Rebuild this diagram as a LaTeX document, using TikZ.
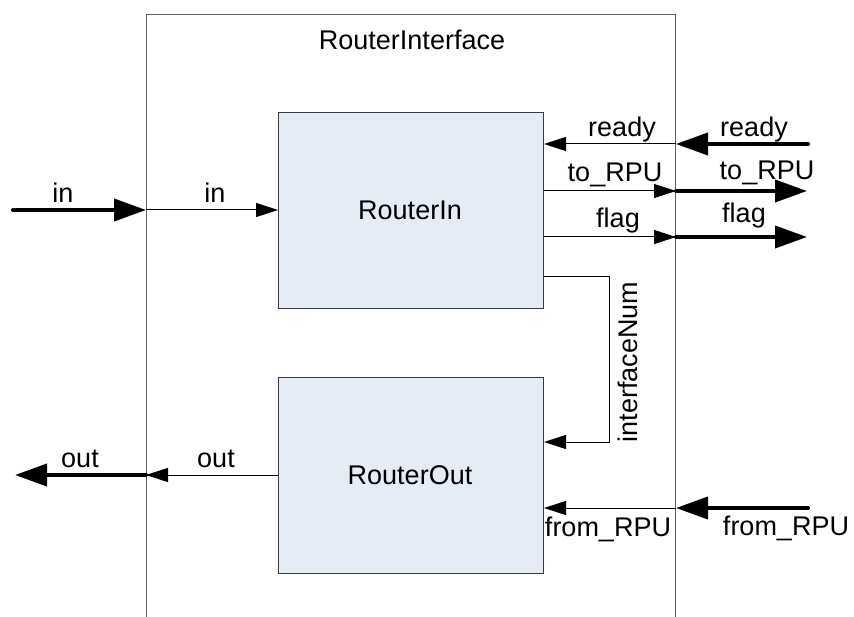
\documentclass[tikz,border=0pt]{standalone}
\usepackage{fontspec}
\setmainfont{Liberation Sans}
\usetikzlibrary{arrows.meta}
\definecolor{boxfill}{HTML}{E6ECF6}
\definecolor{edge}{HTML}{3A3A3A}
\begin{document}
\begin{tikzpicture}[x=1pt,y=-1pt,
  font=\fontsize{27}{31}\selectfont,
  block/.style={draw=edge, fill=boxfill, line width=1pt, minimum width=265pt,
                minimum height=196pt, anchor=north west, inner sep=0pt},
  frame/.style={draw=edge!80, line width=1pt, minimum width=529pt,
                minimum height=660pt, anchor=north west, inner sep=0pt},
  lbl/.style={anchor=base, inner sep=0pt},
  sig/.style={line width=1pt, -{Triangle[length=22pt,width=14pt]}},
  bus/.style={line width=4pt, line cap=round, -{Triangle[length=32pt,width=22pt]}}]
\useasboundingbox (0,0) rectangle (854,617);

% enclosing module (open towards the bottom)
\node[frame] (ri) at (146,14) {};
\node[lbl] (riname) at (412,50) {RouterInterface};

% sub-blocks
\node[block] (rin) at (278,112) {};
\node[block] (rout) at (278,377) {};
\node[lbl] (rinname) at (410,220) {RouterIn};
\node[lbl] (routname) at (410,484) {RouterOut};

% port end points
\coordinate (inA) at (13,210);
\coordinate (outA) at (15,475);
\coordinate (rdyA) at (808,144);
\coordinate (toA) at (807,191);
\coordinate (flgA) at (807,237);
\coordinate (ifA) at (609,277);
\coordinate (ifB) at (609,442);
\coordinate (frA) at (808,508);

% in
\draw[bus] (inA) -- (inA -| ri.west);
\draw[sig] (inA -| ri.west) -- (inA -| rin.west);
\node[lbl] (inlo) at (63,203) {in};
\node[lbl] (inli) at (215,203) {in};

% out
\draw[sig] (outA -| rout.west) -- (outA -| ri.west);
\draw[bus] (outA -| ri.west) -- (outA);
\node[lbl] (outlo) at (80,467) {out};
\node[lbl] (outli) at (216,467) {out};

% ready
\draw[bus] (rdyA) -- (rdyA -| ri.east);
\draw[sig] (rdyA -| ri.east) -- (rdyA -| rin.east);
\node[lbl] (rdyli) at (622,137) {ready};
\node[lbl] (rdylo) at (754,137) {ready};

% to_RPU
\draw[sig] (toA -| rin.east) -- (toA -| ri.east);
\draw[bus] (toA -| ri.east) -- (toA);
\node[lbl] (toli) at (615,182) {to\_RPU};
\node[lbl] (tolo) at (767,180) {to\_RPU};

% flag
\draw[sig] (flgA -| rin.east) -- (flgA -| ri.east);
\draw[bus] (flgA -| ri.east) -- (flgA);
\node[lbl] (flgli) at (618,228) {flag};
\node[lbl] (flglo) at (744,223) {flag};

% interfaceNum
\draw[sig] (ifA -| rin.east) -- (ifA) -- (ifB) -- (ifB -| rout.east);
\node[anchor=base, inner sep=0pt, rotate=90] (ifl) at (637,362) {interfaceNum};

% from_RPU
\draw[bus] (frA) -- (frA -| ri.east);
\draw[sig] (frA -| ri.east) -- (frA -| rout.east);
\node[lbl] (frli) at (608,536) {from\_RPU};
\node[lbl] (frlo) at (786,535) {from\_RPU};
\end{tikzpicture}
\end{document}
